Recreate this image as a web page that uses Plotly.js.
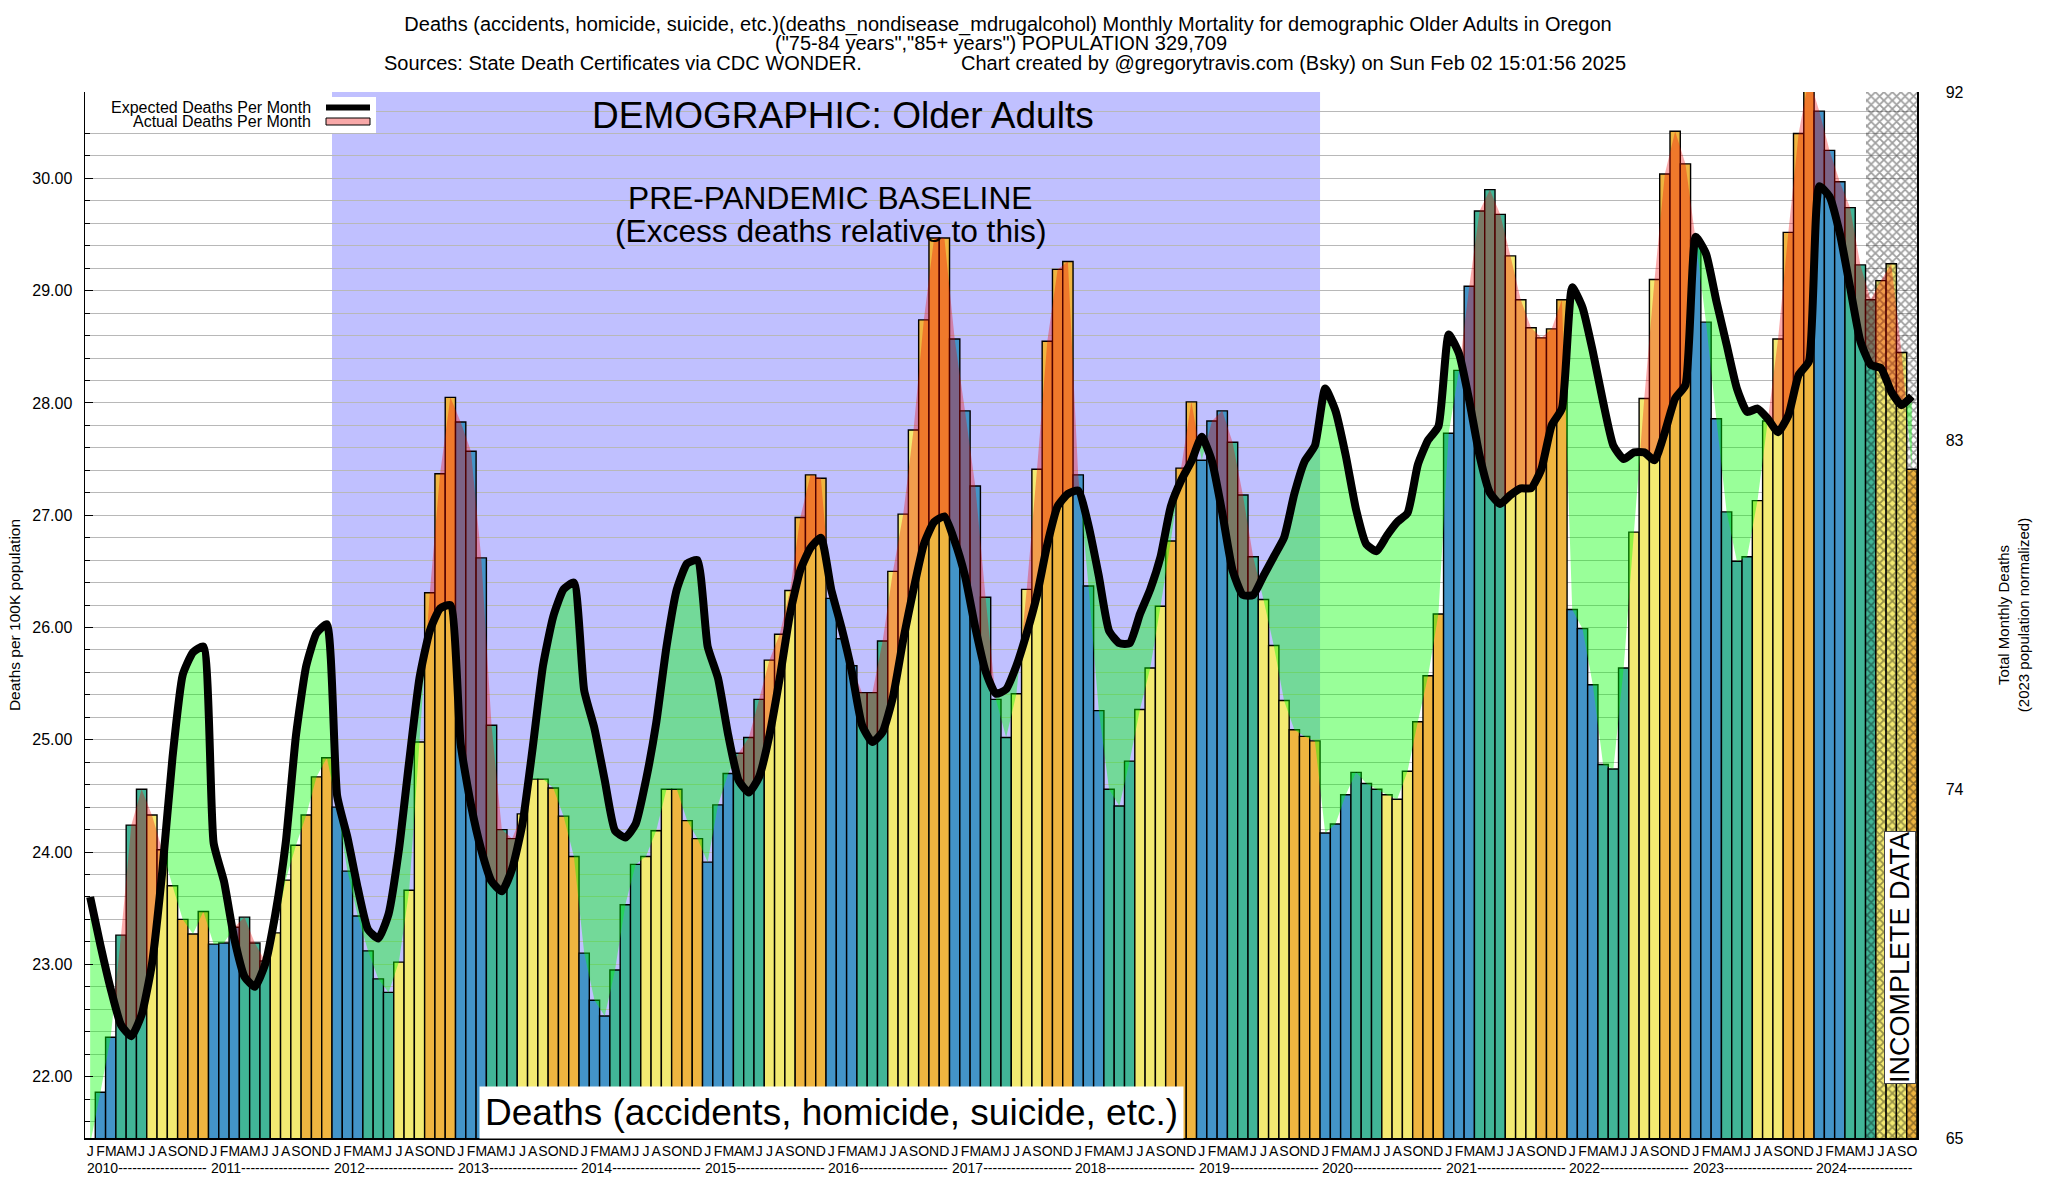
<!DOCTYPE html>
<html>
<head>
<meta charset="utf-8">
<script src="https://cdn.plot.ly/plotly-3.0.1.min.js"></script>
<style>html,body{margin:0;padding:0;background:#fff}#chart{width:2048px;height:1200px}</style>
</head>
<body>
<div id="chart"></div>
<script>
// ---------------- DATA ----------------
const monthLetters = ['J','F','M','A','M','J','J','A','S','O','N','D'];
const years = [2010,2011,2012,2013,2014,2015,2016,2017,2018,2019,2020,2021,2022,2023,2024];
// Actual deaths per 100K, monthly, Jan 2010 .. Oct 2024
const actualDeaths = [
  21.40,21.86,22.35,23.26,24.24,24.56,24.33,24.02,23.70,23.40,23.27,23.47, // 2010
  23.18,23.19,23.33,23.42,23.19,23.03,23.28,23.75,24.06,24.33,24.67,24.84, // 2011
  24.40,23.83,23.43,23.12,22.87,22.75,23.02,23.66,24.98,26.31,27.37,28.05, // 2012
  27.83,27.57,26.62,25.13,24.20,24.12,24.34,24.65,24.65,24.57,24.32,23.96, // 2013
  23.10,22.68,22.54,22.95,23.53,23.89,23.96,24.19,24.56,24.56,24.28,24.12, // 2014
  23.91,24.42,24.70,24.88,25.02,25.36,25.71,25.94,26.33,26.98,27.36,27.33, // 2015
  26.26,25.90,25.66,25.42,25.42,25.88,26.50,27.01,27.76,28.74,29.47,29.47, // 2016
  28.57,27.93,27.26,26.27,25.36,25.02,25.41,26.34,27.41,28.55,29.19,29.26, // 2017
  27.36,26.37,25.26,24.56,24.41,24.81,25.27,25.64,26.19,26.77,27.42,28.01, // 2018
  27.49,27.84,27.93,27.65,27.18,26.63,26.25,25.84,25.35,25.09,25.03,24.99, // 2019
  24.17,24.25,24.51,24.71,24.61,24.56,24.51,24.47,24.72,25.16,25.57,26.12, // 2020
  27.73,28.29,29.04,29.71,29.90,29.68,29.31,28.92,28.67,28.58,28.66,28.92, // 2021
  26.16,25.99,25.49,24.78,24.74,25.64,26.85,28.04,29.10,30.04,30.42,30.13, // 2022
  29.45,28.72,27.86,27.03,26.59,26.63,27.13,27.84,28.57,29.52,30.40,30.90, // 2023
  30.60,30.25,29.97,29.74,29.23,28.92,29.09,29.24,28.45,27.41              // 2024
];
// Expected deaths per 100K (baseline), monthly
const expectedDeaths = [
  23.60,23.17,22.78,22.46,22.36,22.55,23.00,23.82,24.84,25.58,25.78,25.83, // 2010
  24.08,23.74,23.23,22.89,22.80,23.00,23.45,24.08,25.04,25.66,25.95,26.03, // 2011
  24.50,24.13,23.68,23.31,23.23,23.45,24.02,24.81,25.55,25.97,26.17,26.20, // 2012
  24.96,24.42,24.02,23.74,23.65,23.85,24.25,24.93,25.66,26.10,26.34,26.40, // 2013
  25.44,25.10,24.64,24.19,24.13,24.25,24.64,25.15,25.83,26.34,26.57,26.60, // 2014
  25.83,25.55,25.04,24.64,24.53,24.67,25.04,25.55,26.12,26.51,26.71,26.80, // 2015
  26.34,26.00,25.61,25.13,24.98,25.07,25.38,25.89,26.34,26.74,26.94,26.99, // 2016
  26.77,26.46,26.00,25.61,25.41,25.45,25.66,25.95,26.29,26.74,27.08,27.19, // 2017
  27.22,26.91,26.46,25.97,25.86,25.86,26.12,26.34,26.63,27.08,27.31,27.48, // 2018
  27.70,27.48,27.02,26.51,26.29,26.29,26.46,26.63,26.80,27.19,27.48,27.62, // 2019
  28.13,27.93,27.53,27.05,26.74,26.68,26.82,26.94,27.02,27.45,27.67,27.79, // 2020
  28.61,28.44,28.02,27.53,27.20,27.10,27.18,27.24,27.24,27.41,27.80,27.95, // 2021
  29.03,28.85,28.46,28.01,27.62,27.50,27.56,27.56,27.49,27.74,28.04,28.16, // 2022
  29.48,29.33,28.91,28.52,28.13,27.92,27.95,27.86,27.74,27.89,28.25,28.37, // 2023
  29.93,29.84,29.51,29.03,28.55,28.34,28.31,28.10,27.98,28.06              // 2024
];
const incompleteMonths = 5;
const baselineYears = [2012, 2019];
const leftTickVals = [22,23,24,25,26,27,28,29,30];
const rightTickVals = [65,74,83,92];
const leftRange = [21.453, 30.77];
const rightRange = [65, 92];

// ---------------- STYLE ----------------
const FONT = 'Liberation Sans, Arial, Helvetica, sans-serif';
const quarterColors = ['#4394c8','#41b597','#f3ea72','#efb540'];
const L = 85, R = 1917, T = 92, B = 1138;
const px = x => (x - L) / (R - L);
const py = y => (B - y) / (B - T);

// ---------------- DERIVED ----------------
const n = actualDeaths.length;
const idx = actualDeaths.map((_, i) => i);
const barColors = idx.map(i => quarterColors[Math.floor((i % 12) / 3)]);
const tickText = idx.map(i => monthLetters[i % 12]);
const firstYear = years[0];

// fill polygons between actual (linear through bar centres) and expected
function buildFills() {
  const pos = {x: [], y: []}, neg = {x: [], y: []};
  let run = null;
  function close(r) {
    const tgt = r.s > 0 ? pos : neg;
    r.a.forEach(p => { tgt.x.push(p[0]); tgt.y.push(p[1]); });
    r.e.slice().reverse().forEach(p => { tgt.x.push(p[0]); tgt.y.push(p[1]); });
    tgt.x.push(null); tgt.y.push(null);
  }
  for (let i = 0; i < n; i++) {
    const a = actualDeaths[i], e = expectedDeaths[i];
    const d = a - e, s = d >= 0 ? 1 : -1;
    if (!run) { run = {s, a: [[i, a]], e: [[i, e]]}; continue; }
    if (s === run.s) { run.a.push([i, a]); run.e.push([i, e]); continue; }
    const ap = actualDeaths[i - 1], ep = expectedDeaths[i - 1];
    const dp = ap - ep, t = dp / (dp - d);
    const xc = i - 1 + t, yc = ap + t * (a - ap);
    run.a.push([xc, yc]); run.e.push([xc, yc]);
    close(run);
    run = {s, a: [[xc, yc], [i, a]], e: [[xc, yc], [i, e]]};
  }
  close(run);
  return {pos, neg};
}
const fills = buildFills();

const incIdx = idx.slice(n - incompleteMonths);
const baseStart = (baselineYears[0] - firstYear) * 12 - 0.5;
const baseEnd = (baselineYears[1] - firstYear + 1) * 12 - 0.5;

// ---------------- TRACES ----------------
const traces = [
  {
    type: 'bar', x: idx, y: actualDeaths, width: 1,
    marker: {color: barColors, line: {color: '#000', width: 1.4}},
    hoverinfo: 'skip', name: 'Actual'
  },
  {
    type: 'bar', x: incIdx, y: incIdx.map(() => leftRange[1] - leftRange[0]), base: leftRange[0], width: 1,
    marker: {color: 'rgba(0,0,0,0)', line: {width: 0},
      pattern: {shape: 'x', fgcolor: 'rgba(0,0,0,0.75)', bgcolor: 'rgba(0,0,0,0)', size: 6, solidity: 0.5, fillmode: 'overlay'}},
    hoverinfo: 'skip', name: 'Incomplete'
  },
  {
    type: 'scatter', mode: 'none', x: fills.neg.x, y: fills.neg.y, fill: 'toself',
    fillcolor: 'rgba(0,255,0,0.4)', hoverinfo: 'skip', name: 'below'
  },
  {
    type: 'scatter', mode: 'none', x: fills.pos.x, y: fills.pos.y, fill: 'toself',
    fillcolor: 'rgba(240,0,0,0.33)', hoverinfo: 'skip', name: 'above'
  },
  {
    type: 'scatter', mode: 'lines', x: idx, y: expectedDeaths,
    line: {color: '#000', width: 8, shape: 'spline', smoothing: 0.5}, hoverinfo: 'skip', name: 'Expected Deaths Per Month'
  },
  {
    type: 'scatter', mode: 'lines', x: [null], y: [null], yaxis: 'y2', hoverinfo: 'skip', name: 'right axis'
  }
];

// ---------------- ANNOTATIONS ----------------
const annotations = [];
function txt(text, x, y, size, opts) {
  annotations.push(Object.assign({text, x, y, xref: 'paper', yref: 'paper', showarrow: false,
    xanchor: 'center', yanchor: 'middle', font: {family: FONT, size, color: '#000'}}, opts || {}));
}
txt('("75-84 years","85+ years") POPULATION 329,709', px(1001), py(43.3), 20);
txt('Sources: State Death Certificates via CDC WONDER.', px(382), py(63), 20, {xanchor: 'left'});
txt('Chart created by @gregorytravis.com (Bsky) on Sun Feb 02 15:01:56 2025', px(959), py(63), 20, {xanchor: 'left'});
txt('DEMOGRAPHIC: Older Adults', px(843), py(115), 37);
txt('PRE-PANDEMIC BASELINE', px(830), py(198), 31.7);
txt('(Excess deaths relative to this)', px(830), py(231), 31.7);
txt('Deaths (accidents, homicide, suicide, etc.)', px(831), py(1112), 37, {bgcolor: '#fff', borderpad: 5});
txt('INCOMPLETE DATA', px(1900), py(958), 27, {textangle: -90, bgcolor: '#fff', bordercolor: '#444', borderwidth: 1, borderpad: 0});
txt('Expected Deaths Per Month', px(313), py(107.7), 16, {xanchor: 'right'});
txt('Actual Deaths Per Month', px(313), py(122), 16, {xanchor: 'right'});

years.forEach((yr, k) => {
  const monthsInYear = Math.min(12, n - k * 12);
  const dashes = Math.max(0, Math.floor((monthsInYear * 10.29 - 33) / 4.66));
  annotations.push({
    text: String(yr) + '-'.repeat(dashes), x: k * 12 - 0.5, y: py(1168), xref: 'x', yref: 'paper',
    xanchor: 'left', yanchor: 'middle', showarrow: false, font: {family: FONT, size: 14, color: '#000'}
  });
});

// ---------------- SHAPES ----------------
const shapes = [
  {type: 'rect', xref: 'x', yref: 'paper', x0: baseStart, x1: baseEnd, y0: 0, y1: 1,
   fillcolor: '#c0c0ff', line: {width: 0}, layer: 'between'},
  {type: 'rect', xref: 'paper', yref: 'paper', x0: px(85), x1: px(376), y0: py(133), y1: py(97),
   fillcolor: '#fff', line: {width: 0}, layer: 'above'},
  {type: 'rect', xref: 'paper', yref: 'paper', x0: px(326), x1: px(370), y0: py(110.5), y1: py(104.5),
   fillcolor: '#000', line: {width: 0}, layer: 'above'},
  {type: 'rect', xref: 'paper', yref: 'paper', x0: px(326), x1: px(370), y0: py(125), y1: py(118),
   fillcolor: '#f8a8a8', line: {width: 1, color: '#000'}, layer: 'above'}
];

// ---------------- LAYOUT ----------------
const layout = {
  width: 2048, height: 1200,
  margin: {l: L, r: 2048 - R, t: T, b: 1200 - B, pad: 0},
  paper_bgcolor: '#fff', plot_bgcolor: '#fff',
  showlegend: false, barmode: 'overlay', bargap: 0,
  font: {family: FONT, color: '#000'},
  title: {
    text: 'Deaths (accidents, homicide, suicide, etc.)(deaths_nondisease_mdrugalcohol) Monthly Mortality for demographic Older Adults in Oregon',
    font: {family: FONT, size: 20, color: '#000'},
    x: 1008 / 2048, xref: 'container', xanchor: 'center',
    y: 1 - 23.6 / 1200, yref: 'container', yanchor: 'middle'
  },
  xaxis: {
    range: [-0.5, n - 0.5], tickmode: 'array', tickvals: idx, ticktext: tickText, tickangle: 0,
    tickfont: {family: FONT, size: 14, color: '#000'}, ticks: '', ticklen: 0, ticklabelstandoff: 0,
    showgrid: false, zeroline: false, showline: true, linecolor: '#000', linewidth: 1.5
  },
  xaxis2: {
    range: [-0.5, n - 0.5], overlaying: 'x', side: 'top', anchor: 'y', tickmode: 'array', tickvals: idx,
    ticks: 'inside', ticklen: 6, tickcolor: '#000', tickwidth: 1, showticklabels: false,
    showgrid: false, zeroline: false, showline: true, linecolor: '#000', linewidth: 1.5
  },
  yaxis: {
    range: leftRange, tickmode: 'array', tickvals: leftTickVals, ticktext: leftTickVals.map(v => v.toFixed(2)),
    tickfont: {family: FONT, size: 16, color: '#000'}, ticks: 'inside', ticklen: 8, tickcolor: '#000',
    ticklabelstandoff: 8,
    showgrid: true, gridcolor: '#b8b8b8', gridwidth: 1,
    minor: {dtick: 0.2, tick0: 0, showgrid: true, gridcolor: '#b8b8b8', gridwidth: 1, ticks: 'inside', ticklen: 5, tickcolor: '#000'},
    zeroline: false, showline: true, linecolor: '#000', linewidth: 1.5,
    title: {text: 'Deaths per 100K population', font: {family: FONT, size: 15.5, color: '#000'}, standoff: 8}
  },
  yaxis2: {
    range: rightRange, overlaying: 'y', side: 'right', anchor: 'x', tickmode: 'array', tickvals: rightTickVals,
    tickfont: {family: FONT, size: 16, color: '#000'}, ticks: '', ticklabelstandoff: 24,
    showgrid: false, zeroline: false, showline: true, linecolor: '#000', linewidth: 1.5,
    title: {text: 'Total Monthly Deaths<br>(2023 population normalized)', font: {family: FONT, size: 15, color: '#000'}, standoff: 36}
  },
  annotations, shapes
};

Plotly.newPlot('chart', traces, layout, {displayModeBar: false, staticPlot: true});
</script>
</body>
</html>
